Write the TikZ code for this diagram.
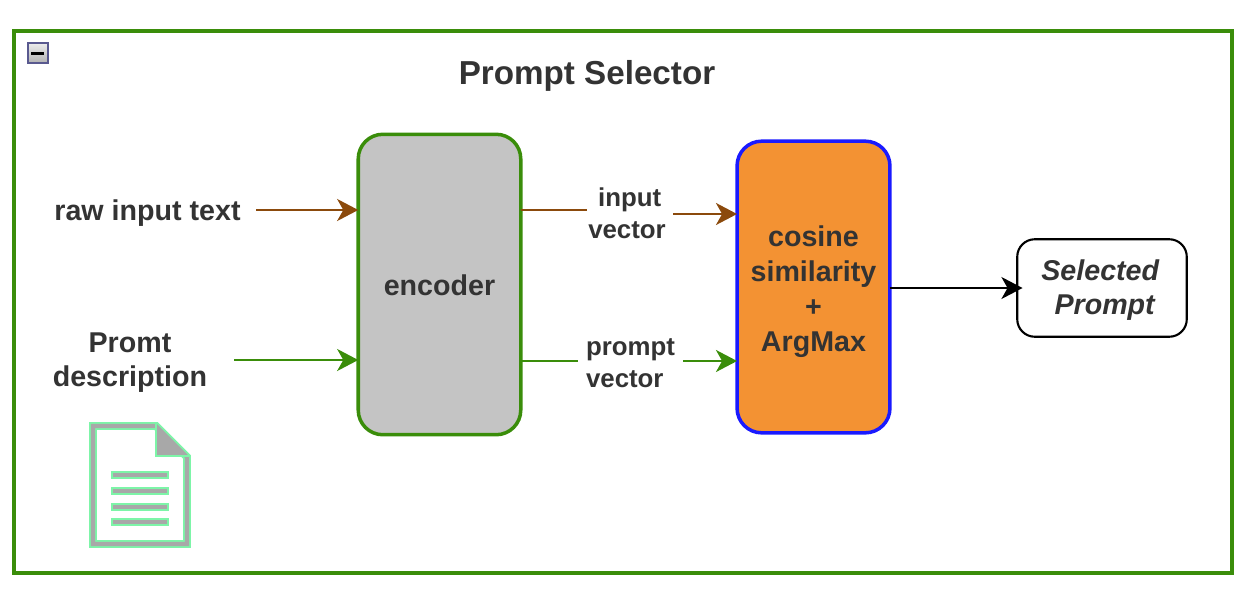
\documentclass[tikz,border=0pt]{standalone}
\usepackage{fontspec}
\setmainfont{Liberation Sans}
\usetikzlibrary{arrows.meta}
\definecolor{framegreen}{HTML}{3A8D0A}
\definecolor{textgrey}{HTML}{333333}
\definecolor{linebrown}{HTML}{8B4A0C}
\definecolor{boxgrey}{HTML}{C4C4C4}
\definecolor{boxorange}{HTML}{F39233}
\definecolor{boxblue}{HTML}{1A1AFF}
\definecolor{docgreen}{HTML}{7DF5A8}
\definecolor{docgrey}{HTML}{A8A8A8}
\tikzset{
  lbl/.style={text=textgrey,font=\fontsize{16.3}{19.5}\selectfont\bfseries,align=center,inner ysep=0pt},
  smalllbl/.style={lbl,font=\fontsize{14.7}{18}\selectfont\bfseries},
  block/.style={draw,rounded corners=14pt,line width=2pt,outer sep=0pt},
  flow/.style={line width=1.4pt},
  flowtip/.style={flow,-{Stealth[length=12pt,width=12.5pt,inset=3.5pt]}},
}
\begin{document}
\begin{tikzpicture}[x=0.02cm,y=-0.02cm]
\useasboundingbox (0,0) rectangle (1246,592);
\draw[framegreen,line width=2.4pt] (14,31) rectangle (1232,573);

% collapse button
\draw[draw=black!30!blue!30!gray,top color=gray!15,bottom color=gray!60,line width=1.2pt] (28,43) rectangle (48,63);
\fill[black] (31,51.5) rectangle (44,54.5);

\node[lbl,font=\fontsize{18.9}{22}\selectfont\bfseries] (title) at (587,76) {Prompt Selector};

% boxes
\node[block,draw=framegreen,fill=boxgrey,minimum width=92.5pt,minimum height=171pt,label={[lbl,yshift=-0.6pt]center:encoder}] (encoder) at (439.5,284.5) {};
\node[block,draw=boxblue,fill=boxorange,minimum width=87pt,minimum height=166pt,label={[lbl,yshift=-2.6pt]center:{cosine\\[0.5pt]similarity\\[0.5pt]+\\[0.5pt]ArgMax}}] (cosine) at (813.5,287) {};
\node[block,draw=black,fill=white,line width=1.2pt,rounded corners=10pt,minimum width=96.5pt,minimum height=55.5pt,label={[lbl,yshift=-1.1pt]center:{\itshape\hspace{-2pt}Selected\\\itshape\hspace{3pt}Prompt}}] (selected) at (1102,288) {};

% labels
\node[lbl,inner xsep=8.5pt] (rawtext) at (147.5,213) {raw input text};
\node[lbl,inner xsep=15pt] (promtdesc) at (130,362.5) {Promt\\description};
\node[smalllbl,inner xsep=0pt,align=center] (inputvec) at (627,213.5) {\hspace{3pt}input\\vector};
\node[smalllbl,inner xsep=4pt,align=left] (promptvec) at (630.5,363) {prompt\\vector};
\coordinate (inputout) at (587,210);
\coordinate (inputin) at (673,214);
\coordinate (promptout) at (578,361);
\coordinate (promptin) at (683,361);
\coordinate (rawout) at (256,210);
\coordinate (descout) at (234,360);

% connectors
\draw[flowtip,linebrown] (rawout) -- (encoder.west |- rawout);
\draw[flowtip,framegreen] (descout) -- (encoder.west |- descout);
\draw[flow,linebrown] (encoder.east |- inputout) -- (inputout);
\draw[flowtip,linebrown] (inputin) -- (cosine.west |- inputin);
\draw[flow,framegreen] (encoder.east |- promptout) -- (promptout);
\draw[flowtip,framegreen] (promptin) -- (cosine.west |- promptin);
\draw[flowtip,black,shorten >=-3pt] (cosine.east |- selected.west) -- (selected.west);

% document icon
\draw[docgreen,line width=4.5pt,miter limit=10] (93,426) -- (156,426) -- (187,457) -- (187,544) -- (93,544) -- cycle;
\draw[docgrey,line width=2.4pt] (93,426) -- (156,426) -- (187,457) -- (187,544) -- (93,544) -- cycle;
\fill[docgrey] (156,425) -- (156,456) -- (188,456) -- cycle;
\draw[docgreen,line width=1.2pt] (156,424) -- (156,456) -- (189,456);
\foreach \y in {475,491,507,522}
  \draw[draw=docgreen,fill=docgrey,line width=1.1pt] (112,\y-3) rectangle (168,\y+3);
\end{tikzpicture}
\end{document}
